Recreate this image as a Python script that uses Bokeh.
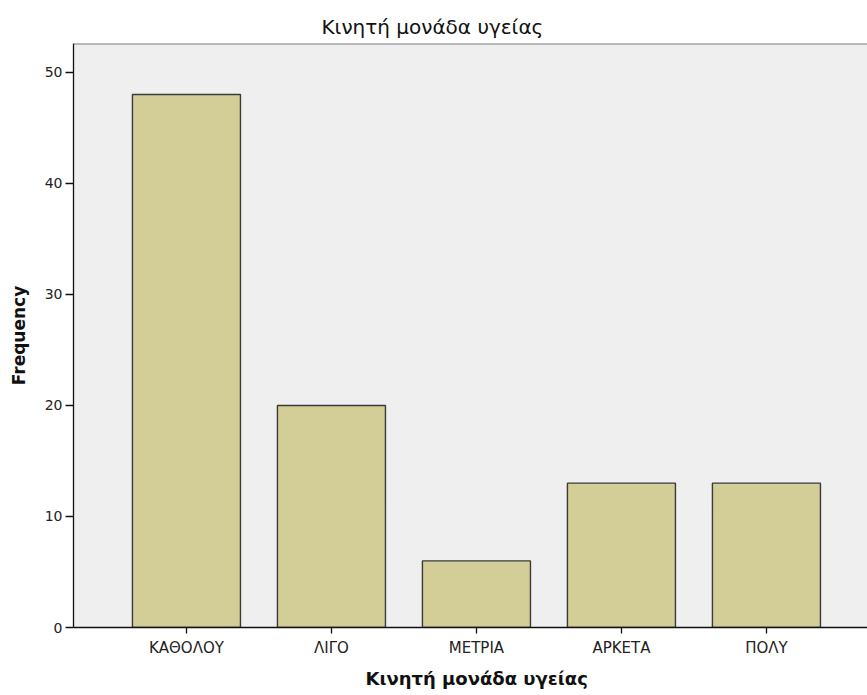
from bokeh.plotting import figure
from bokeh.models import Range1d, FixedTicker, Title, Span, ColumnDataSource
from bokeh.embed import file_html
from bokeh.resources import INLINE

categories = ["ΚΑΘΟΛΟΥ", "ΛΙΓΟ", "ΜΕΤΡΙΑ", "ΑΡΚΕΤΑ", "ΠΟΛΥ"]
frequency = [48, 20, 6, 13, 13]
y_ticks = [0, 10, 20, 30, 40, 50]
title_text = "Κινητή μονάδα υγείας"

positions = list(range(len(categories)))
src = ColumnDataSource(dict(x=positions, top=frequency, cat=categories))

p = figure(width=867, height=695, output_backend="svg", toolbar_location=None,
           x_range=Range1d(-0.779, 4.697), y_range=Range1d(0, 52.6),
           min_border_left=73, min_border_right=0, min_border_top=43, min_border_bottom=67)

p.title.text = title_text
p.title.text_font = "DejaVu Sans"
p.title.text_font_size = "20px"
p.title.text_font_style = "normal"
p.title.align = "left"
p.title.offset = 248
p.title.text_color = "#111111"

p.vbar(x="x", top="top", width=0.745, source=src, fill_color="#d3ce97",
       line_color="#3a3a3a", line_width=1.4)

p.background_fill_color = "#efefef"
p.border_fill_color = "white"
p.outline_line_color = None
p.add_layout(Span(location=52.6, dimension="width", line_color="#808080", line_width=2))
p.xgrid.grid_line_color = None
p.ygrid.grid_line_color = None

# x axis
p.xaxis.ticker = FixedTicker(ticks=positions)
p.xaxis.major_label_overrides = {i: c for i, c in enumerate(categories)}
p.xaxis.major_tick_out = 6
p.xaxis.major_tick_in = 0
p.xaxis.minor_tick_line_color = None
p.xaxis.axis_line_color = "#111111"
p.xaxis.axis_line_width = 1.3
p.xaxis.major_tick_line_color = "#111111"
p.xaxis.major_tick_line_width = 1.3
p.xaxis.major_label_text_font = "DejaVu Sans"
p.xaxis.major_label_text_font_size = "15px"
p.xaxis.major_label_text_color = "#222222"
p.xaxis.major_label_standoff = 5

# y axis
p.yaxis.ticker = FixedTicker(ticks=y_ticks)
p.yaxis.major_tick_out = 8
p.yaxis.major_tick_in = 0
p.yaxis.minor_tick_line_color = None
p.yaxis.axis_line_color = "#111111"
p.yaxis.axis_line_width = 1.3
p.yaxis.major_tick_line_color = "#111111"
p.yaxis.major_tick_line_width = 1.3
p.yaxis.major_label_text_font = "DejaVu Sans"
p.yaxis.major_label_text_font_size = "14px"
p.yaxis.major_label_text_color = "#222222"
p.yaxis.major_label_standoff = 3
p.yaxis.axis_label = "Frequency"
p.yaxis.axis_label_text_font = "DejaVu Sans"
p.yaxis.axis_label_text_font_size = "17px"
p.yaxis.axis_label_text_font_style = "bold"
p.yaxis.axis_label_text_color = "#111111"
p.yaxis.axis_label_standoff = 13

xlab = Title(text=title_text, align="left", offset=292, standoff=13, text_font="DejaVu Sans",
             text_font_size="18px", text_font_style="bold", text_color="#111111")
p.add_layout(xlab, "below")

open("out.html", "w").write(file_html(p, INLINE))
